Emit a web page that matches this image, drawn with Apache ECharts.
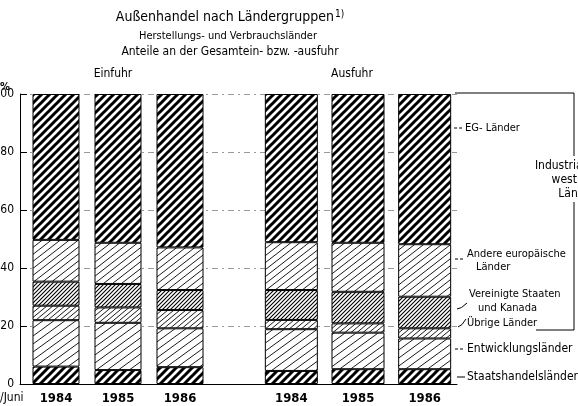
<!DOCTYPE html>
<html>
<head>
<meta charset="utf-8">
<script src="https://cdn.jsdelivr.net/npm/echarts@6/dist/echarts.min.js"></script>
<style>
  html, body { margin: 0; padding: 0; background: #fff; }
  #chart { width: 578px; height: 406px; }
</style>
</head>
<body>
<div id="chart"></div>
<script>
// Jahre (jeweils Jan./Juni) und Achsenteilung
var years = ['1984', '1985', '1986'];
var yMin = 0, yMax = 100, yStep = 20;

// Anteile an der Gesamteinfuhr in %
var einStaats  = [6.0, 4.8, 5.8];
var einEntw    = [16.0, 16.3, 13.4];
var einUebrige = [5.0, 5.3, 6.3];
var einUSA     = [8.3, 8.1, 6.9];
var einAndere  = [14.4, 14.2, 14.7];
var einEG      = [50.3, 51.3, 52.9];

// Anteile an der Gesamtausfuhr in %
var ausStaats  = [4.5, 5.1, 5.1];
var ausEntw    = [14.4, 12.6, 10.6];
var ausUebrige = [3.2, 3.2, 3.5];
var ausUSA     = [10.3, 10.9, 10.9];
var ausAndere  = [16.5, 16.9, 18.1];
var ausEG      = [51.1, 51.3, 51.8];

var groupNames = ['Staatshandelsländer', 'Entwicklungsländer', 'Übrige Länder',
                  'Vereinigte Staaten und Kanada', 'Andere europäische Länder', 'EG-Länder'];

var FONT = "'Liberation Sans Narrow', 'DejaVu Sans Condensed', 'Liberation Sans', sans-serif";

// Schraffur als Kachel: schräge Linien "/", über den Rand hinaus gezogen
function hatch(w, h, lw) {
	var c = document.createElement('canvas');
	c.width = w; c.height = h;
	var g = c.getContext('2d');
	g.fillStyle = '#fff';
	g.fillRect(0, 0, w, h);
	g.strokeStyle = '#000';
	g.lineWidth = lw;
	g.beginPath();
	for (var k = -2; k <= 2; k++) {
		g.moveTo(k * w - w, 2 * h);
		g.lineTo(k * w + 2 * w, -h);
	}
	g.stroke();
	return { image: c, repeat: 'repeat' };
}

var patterns = [
	hatch(8, 8, 3),     // Staatshandelsländer
	hatch(11, 8, 0.9),  // Entwicklungsländer
	hatch(6, 5, 0.9),   // Übrige Länder
	hatch(4, 4, 1.1),   // Vereinigte Staaten und Kanada
	hatch(9, 7, 0.9),   // Andere europäische Länder
	hatch(8, 8, 3)      // EG-Länder
];

var einData = [einStaats, einEntw, einUebrige, einUSA, einAndere, einEG];
var ausData = [ausStaats, ausEntw, ausUebrige, ausUSA, ausAndere, ausEG];

var series = [];
function addSeries(list, axisIdx, stack, width) {
	list.forEach(function (vals, i) {
		series.push({
			name: groupNames[i],
			type: 'bar',
			stack: stack,
			xAxisIndex: axisIdx,
			yAxisIndex: axisIdx,
			barWidth: width,
			silent: true,
			itemStyle: { color: patterns[i], borderColor: '#000', borderWidth: 1 },
			data: vals
		});
	});
}
addSeries(einData, 1, 'ein', 47);
addSeries(ausData, 2, 'aus', 53);

var yearLabel = { color: '#000', fontFamily: FONT, fontSize: 13, fontWeight: 'bold', margin: 8 };

function txt(x, y, text, size, align, weight) {
	return {
		type: 'text', x: x, y: y, silent: true,
		style: {
			text: text, fill: '#000', align: align || 'left', verticalAlign: 'middle',
			font: (weight || 'normal') + ' ' + size + 'px ' + FONT
		}
	};
}
function seg(x1, y1, x2, y2, dash) {
	return {
		type: 'line', silent: true,
		shape: { x1: x1, y1: y1, x2: x2, y2: y2 },
		style: { stroke: '#000', lineWidth: 1, lineDash: dash || null }
	};
}
function poly(points) {
	return { type: 'polyline', silent: true, shape: { points: points }, style: { stroke: '#000', lineWidth: 1, fill: null } };
}

var chart = echarts.init(document.getElementById('chart'), null, { renderer: 'canvas' });
chart.setOption({
	animation: false,
	backgroundColor: '#fff',
	grid: [
		{ left: 20, right: 121, top: 94, bottom: 22, outerBoundsMode: 'none' },
		{ left: 25, width: 186, top: 94, bottom: 22, outerBoundsMode: 'none' },
		{ left: 258, width: 200, top: 94, bottom: 22, outerBoundsMode: 'none' }
	],
	xAxis: [
		{ gridIndex: 0, type: 'category', data: [''], axisLine: { lineStyle: { color: '#000', width: 1 } },
		  axisTick: { show: false }, axisLabel: { show: false } },
		{ gridIndex: 1, type: 'category', data: years, axisLine: { show: false }, axisTick: { show: false }, axisLabel: yearLabel },
		{ gridIndex: 2, type: 'category', data: years, axisLine: { show: false }, axisTick: { show: false }, axisLabel: yearLabel }
	],
	yAxis: [
		{ gridIndex: 0, type: 'value', min: yMin, max: yMax, interval: yStep,
		  axisLine: { show: true, lineStyle: { color: '#000', width: 1 } },
		  axisTick: { show: true, inside: true, length: 7, lineStyle: { color: '#000' } },
		  axisLabel: { color: '#000', fontFamily: FONT, fontSize: 12, margin: 6 },
		  splitLine: { show: true, lineStyle: { color: '#999', width: 1, type: [6, 4, 2, 4] } } },
		{ gridIndex: 1, type: 'value', min: yMin, max: yMax, show: false, splitLine: { show: false } },
		{ gridIndex: 2, type: 'value', min: yMin, max: yMax, show: false, splitLine: { show: false } }
	],
	graphic: [
		{
			type: 'text', x: 230, y: 17, silent: true,
			style: {
				text: '{a|Außenhandel nach Ländergruppen}{s|1)}', align: 'center', verticalAlign: 'middle',
				rich: {
					a: { fontFamily: FONT, fontSize: 14, fill: '#000' },
					s: { fontFamily: FONT, fontSize: 10, fill: '#000', verticalAlign: 'top', padding: [0, 0, 6, 1] }
				}
			}
		},
		txt(228, 36, 'Herstellungs- und Verbrauchsländer', 11, 'center'),
		txt(230, 52, 'Anteile an der Gesamtein- bzw. -ausfuhr', 12, 'center'),
		txt(113, 74, 'Einfuhr', 12, 'center'),
		txt(352, 74, 'Ausfuhr', 12, 'center'),
		txt(0, 87, '%', 11, 'left', 'bold'),
		txt(0, 398, '/Juni', 12, 'left'),

		// Klammer: Industrialisierte westliche Länder
		poly([[455, 93], [574, 93], [574, 156]]),
		poly([[574, 202], [574, 330], [536, 330]]),
		txt(577, 166, 'Industrialisierte', 12, 'center'),
		txt(577, 180, 'westliche', 12, 'center'),
		txt(577, 194, 'Länder', 12, 'center'),

		// Beschriftung der Ländergruppen
		seg(454, 128, 463, 128, [3, 2]),
		txt(465, 128, 'EG- Länder', 11),
		seg(455, 259, 464, 259, [3, 2]),
		txt(467, 254, 'Andere europäische', 11),
		txt(476, 267, 'Länder', 11),
		{ type: 'bezierCurve', silent: true, shape: { x1: 457, y1: 309, x2: 467, y2: 303, cpx1: 461, cpy1: 309 },
		  style: { stroke: '#000', lineWidth: 1, fill: null } },
		txt(469, 294, 'Vereinigte Staaten', 11),
		txt(478, 308, 'und Kanada', 11),
		{ type: 'bezierCurve', silent: true, shape: { x1: 458, y1: 327, x2: 466, y2: 319, cpx1: 462, cpy1: 326 },
		  style: { stroke: '#000', lineWidth: 1, fill: null } },
		txt(467, 323, 'Übrige Länder', 11),
		seg(455, 349, 465, 349, [3, 2]),
		txt(467, 349, 'Entwicklungsländer', 12),
		seg(457, 377, 465, 377),
		txt(467, 377, 'Staatshandelsländer', 12)
	],
	series: series
});
</script>
</body>
</html>
